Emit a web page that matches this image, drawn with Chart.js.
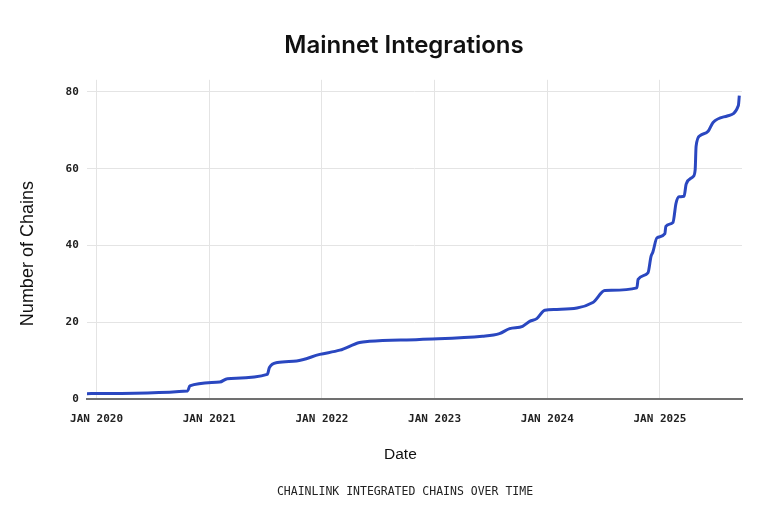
<!DOCTYPE html>
<html>
<head>
<meta charset="utf-8">
<script src="https://cdn.jsdelivr.net/npm/chart.js@4.4.1/dist/chart.umd.min.js"></script>
<style>
html,body{margin:0;padding:0;background:#fff;}
#wrap{width:780px;height:509px;position:relative;}
</style>
</head>
<body>
<div id="wrap"><canvas id="c" width="780" height="509"></canvas></div>
<script>
// Dates of observations and number of integrated chains
const dates = [
  "2019-12-01","2020-10-23","2020-10-30","2021-02-04","2021-03-01","2021-07-08",
  "2021-07-15","2021-08-10","2021-10-11","2021-12-25","2022-02-28","2022-05-03",
  "2022-06-04","2022-11-13","2023-06-05","2023-07-30","2023-09-01","2023-10-13",
  "2023-11-05","2023-11-28","2023-12-24","2024-02-01","2024-05-28","2024-07-06",
  "2024-10-18","2024-10-22","2024-11-23","2024-12-03","2024-12-09","2024-12-22",
  "2025-01-17","2025-01-20","2025-02-12","2025-02-22","2025-03-04","2025-03-20",
  "2025-03-27","2025-04-18","2025-04-25","2025-04-28","2025-05-11","2025-06-06",
  "2025-06-22","2025-08-07","2025-09-12","2025-09-15"
];
const chains = [
  1.5, 2.2, 3.5, 4.5, 5.4, 6.5,
  8.3, 9.6, 10.0, 11.7, 12.8, 14.8,
  15.1, 15.6, 16.4, 17.1, 18.4, 19.0,
  20.3, 21.0, 23.2, 23.4, 25.2, 28.3,
  29.0, 31.2, 32.9, 37.2, 38.3, 42.0,
  43.1, 45.0, 46.0, 51.0, 52.7, 52.8,
  56.0, 57.9, 59.7, 65.8, 68.6, 69.7,
  72.0, 73.7, 76.4, 79.0
];
const yearTicks = [2020, 2021, 2022, 2023, 2024, 2025];
const yTicks = [0, 20, 40, 60, 80];

function toYear(s){
  const [y,m,d] = s.split("-").map(Number);
  const start = Date.UTC(y,0,1), end = Date.UTC(y+1,0,1);
  return y + (Date.UTC(y,m-1,d) - start) / (end - start);
}
const points = dates.map((d,i)=>({x: toYear(d), y: chains[i]}));

const mono = "'DejaVu Sans Mono', 'Liberation Mono', monospace";
const sans = "Inter, 'Noto Sans', sans-serif";
const arial = "'Liberation Sans', Arial, sans-serif";
const TITLE = 'Mainnet Integrations';
const FOOT = 'CHAINLINK INTEGRATED CHAINS OVER TIME';

// place titles where the reference centres them
const centerTitles = {
  id: 'centerTitles',
  afterLayout(chart) {
    chart.boxes.forEach(b => {
      if (!b.options || b.options.text === undefined) return;
      let target = null;
      if (b.options.text === TITLE) target = 404;
      if (b.options.text === FOOT) target = 405;
      if (target === null) return;
      const w = b.right - b.left;
      b.left = target - w / 2;
      b.right = target + w / 2;
    });
    const shift = (scale, key1, key2, d) => {
      if (scale._shiftWrapped) return;
      const orig = scale.drawTitle;
      scale.drawTitle = function() {
        const a = this[key1], b = this[key2];
        this[key1] = a + d; this[key2] = b + d;
        orig.apply(this, arguments);
        this[key1] = a; this[key2] = b;
      };
      scale._shiftWrapped = true;
    };
    shift(chart.scales.y, 'top', 'bottom', 14);
    shift(chart.scales.x, 'left', 'right', -14);
  }
};

new Chart(document.getElementById('c'), {
  type: 'line',
  data: {
    datasets: [{
      data: points,
      borderColor: '#2a47c0',
      borderWidth: 3,
      pointRadius: 0,
      fill: false,
      cubicInterpolationMode: 'monotone',
      borderJoinStyle: 'round',
      borderCapStyle: 'butt'
    }]
  },
  plugins: [centerTitles],
  options: {
    responsive: false,
    animation: false,
    events: [],
    layout: { padding: { left: 17, right: 38, top: 31, bottom: 10 } },
    plugins: {
      legend: { display: false },
      tooltip: { enabled: false },
      title: {
        display: true,
        text: TITLE,
        color: '#111',
        font: { family: sans, size: 24, weight: '600' },
        padding: { top: 0, bottom: 20 }
      },
      subtitle: {
        display: true,
        position: 'bottom',
        text: FOOT,
        color: '#222',
        font: { family: mono, size: 11.5, weight: 'normal' },
        padding: { top: 21, bottom: 0 }
      }
    },
    scales: {
      x: {
        type: 'linear',
        min: 2019.914,
        max: 2025.728,
        afterBuildTicks: (s) => { s.ticks = yearTicks.map(v => ({value: v})); },
        ticks: {
          color: '#222',
          font: { family: mono, size: 11, weight: 'bold' },
          padding: 13,
          maxRotation: 0,
          autoSkip: false,
          callback: (v) => 'JAN ' + v
        },
        grid: { color: '#e4e4e4', lineWidth: 1, drawTicks: false },
        border: { display: true, color: '#707070', width: 2 },
        title: {
          display: true,
          text: 'Date',
          color: '#111',
          font: { family: arial, size: 15.5, weight: 'normal' },
          padding: { top: 7, bottom: 0 }
        }
      },
      y: {
        type: 'linear',
        min: 0,
        max: 83.1,
        afterBuildTicks: (s) => { s.ticks = yTicks.map(v => ({value: v})); },
        ticks: {
          color: '#222',
          font: { family: mono, size: 11, weight: 'bold' },
          padding: 8
        },
        grid: { color: '#e4e4e4', lineWidth: 1, drawTicks: false },
        border: { display: false },
        title: {
          display: true,
          text: 'Number of Chains',
          color: '#111',
          font: { family: arial, size: 18, weight: 'normal' },
          padding: { top: 0, bottom: 19 }
        }
      }
    }
  }
});
</script>
</body>
</html>
